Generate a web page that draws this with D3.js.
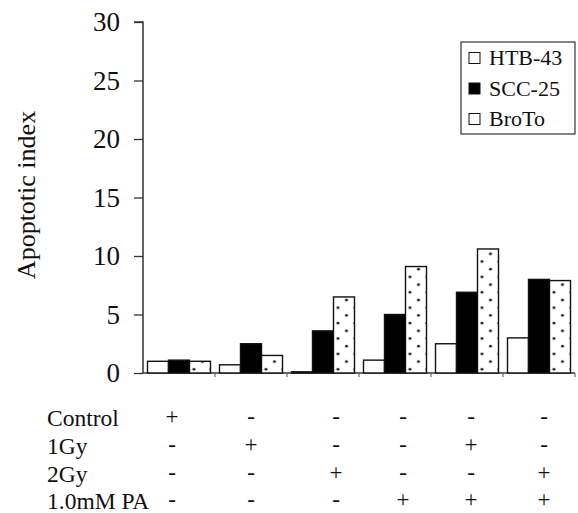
<!DOCTYPE html>
<html><head><meta charset="utf-8">
<script src="https://cdn.jsdelivr.net/npm/d3@7"></script>
<style>body{margin:0;background:#fff}svg{display:block}text{font-family:"Liberation Serif","Times New Roman",serif;fill:#111}</style>
</head><body><svg id="c" width="578" height="513"></svg>
<script>
const groups = ["g1","g2","g3","g4","g5","g6"];
const seriesNames = ["HTB-43","SCC-25","BroTo"];
const htb43 = [1.0, 0.7, 0.1, 1.1, 2.5, 3.0];
const scc25 = [1.1, 2.5, 3.6, 5.0, 6.9, 8.0];
const broto = [1.0, 1.5, 6.5, 9.1, 10.6, 7.9];
const yTicks = [0, 5, 10, 15, 20, 25, 30];
const rowLabels = ["Control", "1Gy", "2Gy", "1.0mM PA"];
const controlRow = ["+","-","-","-","-","-"];
const gy1Row = ["-","+","-","-","+","-"];
const gy2Row = ["-","-","+","-","-","+"];
const paRow = ["-","-","-","+","+","+"];

const svg = d3.select("#c");
const pL = 143, pR = 575, pT = 22, pB = 373;
const y = d3.scaleLinear().domain([0,30]).range([pB, pT]);
const x0 = d3.scaleBand().domain(groups).range([pL, pR]).paddingInner(0.125).paddingOuter(0.0625);
const x1 = d3.scaleBand().domain(seriesNames).range([0, x0.bandwidth()]);

const defs = svg.append("defs");
const pat = defs.append("pattern").attr("id","dots").attr("patternUnits","userSpaceOnUse")
  .attr("width",17).attr("height",15.4).attr("x",0).attr("y",pB);
pat.append("rect").attr("width",17).attr("height",15.4).attr("fill","#fff");
pat.append("circle").attr("cx",4).attr("cy",4).attr("r",1.4).attr("fill","#111");
pat.append("circle").attr("cx",12.5).attr("cy",11.7).attr("r",1.4).attr("fill","#111");

// y axis
const yAxis = svg.append("g").attr("transform",`translate(${pL},0)`)
  .call(d3.axisLeft(y).tickValues(yTicks).tickSize(9).tickPadding(14));
yAxis.select(".domain").attr("stroke","#333").attr("stroke-width",1.5).attr("d",`M-9,${pT}H0V${pB}`);
yAxis.selectAll(".tick line").attr("stroke","#333").attr("stroke-width",1.3);
yAxis.selectAll(".tick text").style("font-size","27px").attr("font-family","Liberation Serif").attr("fill","#111");

// x axis line
svg.append("line").attr("x1",pL).attr("x2",pR).attr("y1",pB).attr("y2",pB).attr("stroke","#333").attr("stroke-width",1.5);
const sepX = d => x0(d) + x0.bandwidth() + x0.step()*x0.paddingInner()/2;
svg.selectAll(".xt").data(groups).enter().append("line")
  .attr("x1",sepX).attr("x2",sepX)
  .attr("y1",pB).attr("y2",pB+4).attr("stroke","#555").attr("stroke-width",1);

// bars
const data = groups.map((g,i)=>({g, vals:[htb43[i], scc25[i], broto[i]]}));
const fills = ["#fff","#000","url(#dots)"];
const gg = svg.selectAll(".grp").data(data).enter().append("g").attr("transform",d=>`translate(${x0(d.g)},0)`);
gg.selectAll("rect").data(d=>d.vals.map((v,j)=>({v,j}))).enter().append("rect")
  .attr("x",d=>x1(seriesNames[d.j])).attr("width",x1.bandwidth())
  .attr("y",d=>y(d.v)).attr("height",d=>pB-y(d.v))
  .attr("fill",d=>fills[d.j]).attr("stroke","#111").attr("stroke-width",1.4);

// y label
svg.append("text").attr("transform","translate(35,195) rotate(-90)").attr("text-anchor","middle")
  .style("font-size","26px").text("Apoptotic index");

// legend
const lg = svg.append("g");
lg.append("rect").attr("x",461).attr("y",42).attr("width",114).attr("height",92).attr("fill","#fff").attr("stroke","#333").attr("stroke-width",1.2);
const legFill = ["#fff","#000","#fff"];
seriesNames.forEach((s,i)=>{
  const cy = 58 + i*30.5;
  lg.append("rect").attr("x",469).attr("y",cy-5.5).attr("width",11).attr("height",11).attr("fill",legFill[i]).attr("stroke","#111").attr("stroke-width",1);
  lg.append("text").attr("x",489).attr("y",cy+7).style("font-size","22px").text(s);
});

// condition table
const rows = [controlRow, gy1Row, gy2Row, paRow];
const rowBase = [426, 454, 482, 509];
const colNudge = [-7, 0, 13, 8, 4, 5];
rowLabels.forEach((r,i)=>{
  svg.append("text").attr("x",47).attr("y",rowBase[i]).style("font-size","23.5px").text(r);
  svg.selectAll(null).data(groups).enter().append("text")
    .attr("x",(d,k)=>x0(d)+x0.bandwidth()/2 + colNudge[k])
    .attr("y",rowBase[i] - 2).attr("text-anchor","middle").style("font-size","23px")
    .text((d,k)=>rows[i][k]);
});
</script></body></html>
